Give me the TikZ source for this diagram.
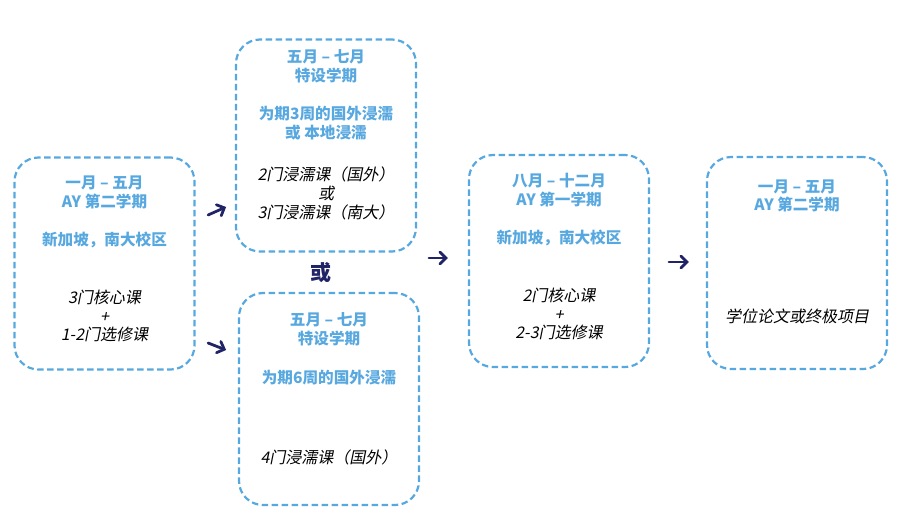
\documentclass[tikz,border=0pt]{standalone}
\usepackage{fontspec}
\setmainfont{Noto Sans CJK SC}
\newfontfamily\cjkslant[FakeSlant=0.2]{Noto Sans CJK SC}
\usetikzlibrary{arrows.meta,calc,positioning}
\definecolor{skyblue}{RGB}{88,168,224}
\definecolor{navy}{RGB}{32,36,102}
\begin{document}
\begin{tikzpicture}[x=1pt,y=-1pt,line join=round]
	\tikzset{box/.style={draw=skyblue,line width=2.2pt,dash pattern=on 6.5pt off 3.5pt,rounded corners=24pt,minimum width=180pt,minimum height=212pt},
		hd/.style={text=skyblue,font=\fontsize{15.6}{18.8}\selectfont\bfseries,align=center,inner sep=0pt},
		crs/.style={font=\fontsize{16}{18.8}\cjkslant,align=center,inner sep=0pt},
		arr/.style={navy,line width=2.8pt,line cap=round,-{Straight Barb[length=6pt,width=12pt,line cap=round]}}}
	\useasboundingbox (0,0) rectangle (900,528);
	% the five terms
	\node[box] (jan) at (104.5,263.5) {};
	\node[box] (mayA) at (326,145.5) {};
	\node[box] (mayB) at (329,399) {};
	\node[box] (aug) at (559,261) {};
	\node[box] (janB) at (797,263) {};
	% texts
	\node[hd] (janhd) at (104.5,192.5) {一月 – 五月\\AY 第二学期};
	\node[hd] (janloc) at (104.5,240) {新加坡，南大校区};
	\node[crs] (jancrs) at (104.5,316) {3门核心课\\+\\1-2门选修课};
	\node[hd] (mayAhd) at (326,66.5) {五月 – 七月\\特设学期};
	\node[hd] (mayAloc) at (326,123) {为期3周的国外浸濡\\或 本地浸濡};
	\node[crs] (mayAcrs) at (326,193.5) {2门浸濡课（国外）\\或\\3门浸濡课（南大）};
	\node[hd] (mayBhd) at (329,329.5) {五月 – 七月\\特设学期};
	\node[hd] (mayBloc) at (329,378) {为期6周的国外浸濡};
	\node[crs] (mayBcrs) at (329,457) {4门浸濡课（国外）};
	\node[hd] (aughd) at (559,190) {八月 – 十二月\\AY 第一学期};
	\node[hd] (augloc) at (559,238) {新加坡，南大校区};
	\node[crs] (augcrs) at (559,314) {2门核心课\\+\\2-3门选修课};
	\node[hd] (janBhd) at (797,196) {一月 – 五月\\AY 第二学期};
	\node[crs] (janBcrs) at (797,316) {学位论文或终极项目};
	\node[text=navy,font=\fontsize{21}{24}\selectfont\bfseries,inner sep=0pt] (or) at (321,273) {或};
	% arrows
	\coordinate (a1) at ($(jan.east)+(12.5,-48.5)$);
	\coordinate (a2) at ($(jan.east)+(30.5,-56.5)$);
	\coordinate (b1) at ($(jan.east)+(12.5,79.5)$);
	\coordinate (b2) at ($(jan.east)+(30.5,86.5)$);
	\coordinate (c1) at ($(aug.west)+(-39,-3)$);
	\coordinate (c2) at ($(aug.west)+(-20,-3)$);
	\coordinate (d1) at ($(janB.west)+(-37,-1)$);
	\coordinate (d2) at ($(janB.west)+(-17,-1)$);
	\draw[arr] (a1)--(a2);
	\draw[arr] (b1)--(b2);
	\draw[arr] (c1)--(c2);
	\draw[arr] (d1)--(d2);
\end{tikzpicture}
\end{document}
